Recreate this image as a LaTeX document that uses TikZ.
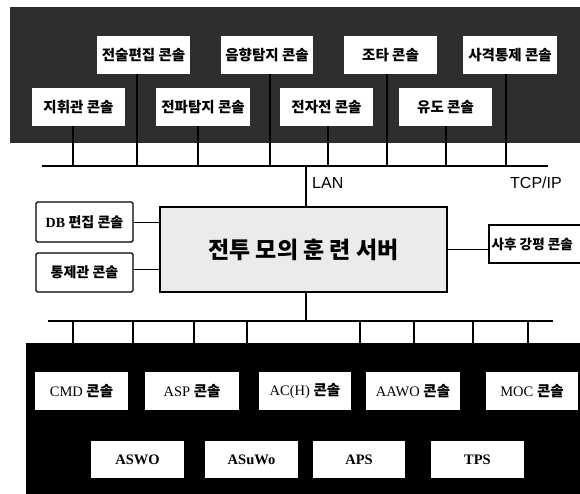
\documentclass[tikz,border=0pt]{standalone}
\usepackage{fontspec}
\setmainfont{Liberation Serif}
\newfontfamily\kr{Noto Sans CJK KR}
\newfontfamily\lsans{Liberation Sans}
\newcommand\K[1]{{\kr\bfseries #1}}
\begin{document}
\begin{tikzpicture}[x=1pt,y=-1pt,
  wbox/.style={fill=white,draw=none,minimum width=93pt,minimum height=38pt,inner sep=0pt,font=\fontsize{14.5}{16}\selectfont},
  obox/.style={fill=white,draw=black,line width=1.2pt,rounded corners=1.5pt,minimum width=97pt,minimum height=40pt,inner sep=0pt,font=\fontsize{14}{16}\selectfont},
  bus/.style={line width=2pt},
  drop/.style={line width=1.5pt},
  link/.style={line width=1pt}]
\useasboundingbox (0,0) rectangle (580,493);
\clip (0,0) rectangle (580,493);
% regions
\fill[black!82] (10,7) rectangle (590,143);
\fill[black] (26,343) rectangle (590,500);
% bus lines
\coordinate (busTL) at (42,166);
\coordinate (busTR) at (548,166);
\coordinate (busBL) at (48,321);
\coordinate (busBR) at (553,321);
\draw[bus] (busTL) -- (busTR);
\draw[bus] (busBL) -- (busBR);
% top boxes
\node[wbox] (tb1) at (143.5,55) {\K{전술편집 콘솔}};
\node[wbox,minimum width=92pt] (tb2) at (267,55) {\K{음향탐지 콘솔}};
\node[wbox] (tb3) at (390.5,55) {\K{조타 콘솔}};
\node[wbox,minimum width=94pt] (tb4) at (510,55) {\K{사격통제 콘솔}};
\node[wbox] (tb5) at (78.5,107) {\K{지휘관 콘솔}};
\node[wbox,minimum width=94pt] (tb6) at (203,107) {\K{전파탐지 콘솔}};
\node[wbox] (tb7) at (326.5,107) {\K{전자전 콘솔}};
\node[wbox] (tb8) at (445.5,107) {\K{유도 콘솔}};
% drops from top consoles to LAN bus
\foreach \n/\s in {tb1/-6.5,tb2/3,tb3/-3.5,tb4/-4,tb5/-5.5,tb6/-5,tb7/1.5,tb8/0.5} {
  \draw[drop] ([xshift=\s pt]\n.south) -- ([xshift=\s pt]\n.south |- busTL);
}
% server
\node[draw=black,line width=1.2pt,fill=black!8,minimum width=287pt,minimum height=85pt,inner sep=0pt,
  font=\fontsize{23}{26}\selectfont] (srv) at (303.5,249.5) {\kr\bfseries 전투 모의 훈 련 서버};
\draw[bus] ([xshift=2.5pt]srv.north |- busTL) -- ([xshift=2.5pt]srv.north);
\draw[bus] ([xshift=2.5pt]srv.south) -- ([xshift=2.5pt]srv.south |- busBL);
\node[anchor=west,font=\lsans\fontsize{16}{18}\selectfont,inner sep=0pt] (lan) at (312,183) {LAN};
\node[anchor=west,font=\lsans\fontsize{16}{18}\selectfont,inner sep=0pt] (tcp) at (510,183) {TCP/IP};
% side consoles
\node[obox] (db) at (84.5,222) {{\bfseries DB} \K{편집 콘솔}};
\node[obox,minimum height=39pt] (ctl) at (84.5,272.5) {\K{통제관 콘솔}};
\node[draw=black,line width=1.2pt,fill=white,minimum width=106pt,minimum height=38pt,inner sep=0pt] (aar) at (542,244) {};
\node[anchor=west,inner sep=0pt,font=\fontsize{13.6}{15}\selectfont] (aart) at ([xshift=3pt]aar.west) {\K{사후 강평 콘솔}};
\draw[link] (db.east) -- (db.east -| srv.west);
\draw[link] ([yshift=3pt]ctl.east) -- ([yshift=3pt]ctl.east -| srv.west);
\draw[link] (srv.east) -- (srv.east -| aar.west);
% drops from lower bus
\foreach \x in {73,133,194,247,360,414,473,528} {
  \draw[drop] (\x,321) -- (\x,343);
}
% bottom boxes
\node[wbox] (cmd) at (81.5,391) {CMD \K{콘솔}};
\node[wbox,minimum width=94pt] (asp) at (192,391) {ASP \K{콘솔}};
\node[wbox,minimum width=92pt] (ach) at (305,391) {AC(H) \K{콘솔}};
\node[wbox,minimum width=94pt] (aawo) at (413,391) {AAWO \K{콘솔}};
\node[wbox,minimum width=92pt] (moc) at (532,391) {MOC \K{콘솔}};
\node[wbox,minimum height=37pt] (aswo) at (137.5,459.5) {\bfseries ASWO};
\node[wbox,minimum height=37pt] (asuwo) at (251.5,459.5) {\bfseries ASuWo};
\node[wbox,minimum width=92pt,minimum height=37pt] (aps) at (359,459.5) {\bfseries APS};
\node[wbox,minimum height=37pt] (tps) at (477.5,459.5) {\bfseries TPS};
\end{tikzpicture}
\end{document}
